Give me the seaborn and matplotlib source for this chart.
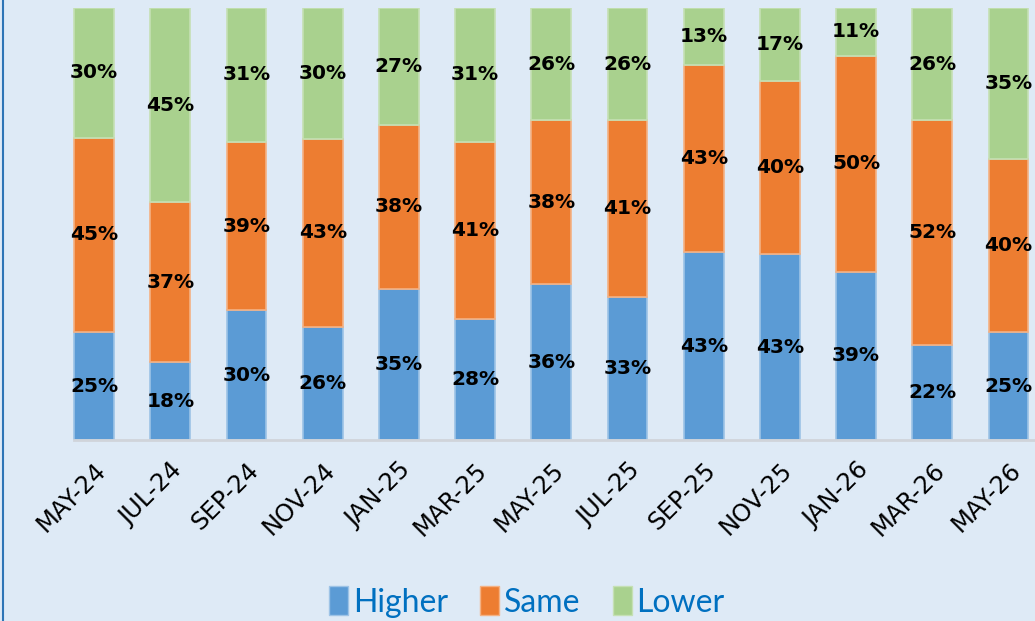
import matplotlib
matplotlib.use("Agg")
import matplotlib.pyplot as plt
import seaborn as sns
import pandas as pd
import numpy as np
from matplotlib.lines import Line2D
from matplotlib.patches import Patch

categories = ["MAY-24", "JUL-24", "SEP-24", "NOV-24", "JAN-25", "MAR-25", "MAY-25",
              "JUL-25", "SEP-25", "NOV-25", "JAN-26", "MAR-26", "MAY-26"]
higher = [25, 18, 30, 26, 35, 28, 36, 33, 43, 43, 39, 22, 25]
same = [45, 37, 39, 43, 38, 41, 38, 41, 43, 40, 50, 52, 40]
lower = [30, 45, 31, 30, 27, 31, 26, 26, 13, 17, 11, 26, 35]

series_names = ["Higher", "Same", "Lower"]
colors = ["#5B9BD5", "#ED7D31", "#A9D18E"]
edges = ["#9DC3E6", "#F4B183", "#C5E0B4"]
bg = "#DEEAF6"

sns.set_theme(style="white")
plt.rcParams["font.family"] = ["Lato", "DejaVu Sans"]

fig = plt.figure(figsize=(10.35, 6.21), dpi=100, facecolor=bg)
W, H = 1035, 621
ax = fig.add_axes([56 / W, (H - 440) / H, (W - 56) / W, 432 / H])
ax.set_facecolor(bg)

df = pd.DataFrame({"cat": categories, "Higher": higher, "Same": same, "Lower": lower})
total = df[series_names].sum(axis=1).to_numpy()
bottom = np.zeros(len(categories))
for name, c, ec in zip(series_names, colors, edges):
    vals = df[name].to_numpy()
    share = vals / total * 100
    tmp = pd.DataFrame({"cat": categories, "share": share})
    sns.barplot(data=tmp, x="cat", y="share", color=c, ax=ax, width=0.52,
                bottom=bottom.copy(), edgecolor=ec, linewidth=1.2, saturation=1)
    for i, v in enumerate(vals):
        ax.text(i, bottom[i] + share[i] / 2, f"{v}%", ha="center", va="center",
                fontsize=14.5, fontweight="bold", color="black", family="DejaVu Sans")
    bottom = bottom + share

ax.set_xlim(-0.5, -0.5 + (W - 56) / 76.2)
ax.set_ylim(0, 100)
ax.set_xlabel("")
ax.set_ylabel("")
ax.set_yticks([])
for s in ["top", "left", "right"]:
    ax.spines[s].set_visible(False)
ax.spines["bottom"].set_color("#D0D4DA")
ax.spines["bottom"].set_linewidth(2)
ax.spines["bottom"].set_bounds(-0.26, 12.6)
ax.tick_params(axis="x", length=0, pad=13)
ax.set_xticks(range(len(categories)))
ax.set_xticklabels(categories, rotation=45, ha="right", va="top",
                   rotation_mode="anchor", fontsize=17.5, color="black",
                   family="DejaVu Sans", fontweight="normal")

handles = [Patch(facecolor=c, edgecolor=ec, label=n) for n, c, ec in zip(series_names, colors, edges)]
leg = fig.legend(handles=handles, loc="center", bbox_to_anchor=(527 / W, 1 - 602 / H),
                 ncol=3, frameon=False, fontsize=23, handlelength=0.6, handleheight=1.0,
                 handletextpad=0.15, columnspacing=1.0)
for t in leg.get_texts():
    t.set_color("#0070C0")

fig.add_artist(Line2D([3 / W, 3 / W], [0, 1], transform=fig.transFigure,
                      color="#2E75B6", linewidth=1.5))

fig.savefig("out.png", dpi=100, facecolor=bg)
